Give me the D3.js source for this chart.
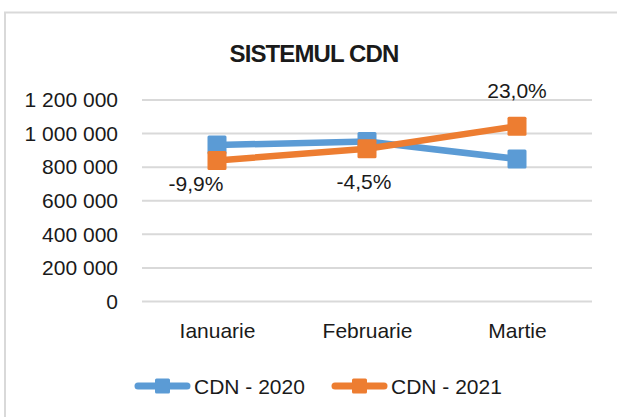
<!DOCTYPE html>
<html>
<head>
<meta charset="utf-8">
<script src="https://cdn.jsdelivr.net/npm/d3@7"></script>
<style>
  body { margin: 0; background: #fff; }
  svg text { font-family: "Liberation Sans", Arial, sans-serif; fill: #1a1a1a; }
</style>
</head>
<body>
<div id="graph"></div>
<script>
const months = ["Ianuarie", "Februarie", "Martie"];
const series = ["CDN - 2020", "CDN - 2021"];
const cdn2020 = [932000, 953000, 849000];
const cdn2021 = [840000, 910000, 1044000];
const changeLabels = ["-9,9%", "-4,5%", "23,0%"];
const yTicks = [0, 200000, 400000, 600000, 800000, 1000000, 1200000];

const w = 617;
const h = 417;
const plot = { left: 142, right: 592, top: 100, bottom: 301.5 };
const colors = ["#5b9bd5", "#ed7d31"];
// label placement relative to the 2021 point (dx, baseline dy)
const labelOffsets = [[-21, 31], [-3, 40], [0, -28]];

const svg = d3.select("#graph").append("svg").attr("width", w).attr("height", h);

// chart frame (only top and left edges show in the crop)
svg.append("path")
  .attr("d", `M5,${h} V12.5 H${w}`)
  .attr("fill", "none")
  .attr("stroke", "#d9d9d9")
  .attr("stroke-width", 2);

svg.append("text")
  .attr("x", 314)
  .attr("y", 62)
  .attr("text-anchor", "middle")
  .attr("font-size", 24)
  .attr("font-weight", "bold")
  .attr("letter-spacing", -0.9)
  .text("SISTEMUL CDN");

const x = d3.scalePoint().domain(months).range([plot.left, plot.right]).padding(0.5);
const y = d3.scaleLinear().domain([0, 1200000]).range([plot.bottom, plot.top]);
const fmt = (d) => d3.format(",")(d).replace(/,/g, " ");

// gridlines
svg.append("g")
  .selectAll("line")
  .data(yTicks)
  .enter()
  .append("line")
  .attr("x1", plot.left)
  .attr("x2", plot.right)
  .attr("y1", (d) => y(d))
  .attr("y2", (d) => y(d))
  .attr("stroke", "#d9d9d9")
  .attr("stroke-width", 2);

// y axis
const yAxis = svg.append("g")
  .attr("transform", `translate(${plot.left},0)`)
  .call(d3.axisLeft(y).tickValues(yTicks).tickFormat(fmt).tickSize(0).tickPadding(24));
yAxis.select(".domain").remove();
yAxis.selectAll("text").attr("font-size", 21).attr("fill", "#1a1a1a");

// x axis
const xAxis = svg.append("g")
  .attr("transform", `translate(0,${plot.bottom})`)
  .call(d3.axisBottom(x).tickSize(0).tickPadding(22));
xAxis.select(".domain").remove();
xAxis.selectAll("text").attr("font-size", 21).attr("fill", "#1a1a1a");

const line = d3.line().x((d, i) => x(months[i])).y((d) => y(d));
const m = 19;

[cdn2020, cdn2021].forEach((vals, s) => {
  const g = svg.append("g");
  g.append("path")
    .datum(vals)
    .attr("d", line)
    .attr("fill", "none")
    .attr("stroke", colors[s])
    .attr("stroke-width", 6.5)
    .attr("stroke-linejoin", "round");
  g.selectAll("rect")
    .data(vals)
    .enter()
    .append("rect")
    .attr("x", (d, i) => x(months[i]) - m / 2)
    .attr("y", (d) => y(d) - m / 2)
    .attr("width", m)
    .attr("height", m)
    .attr("rx", 1.5)
    .attr("fill", colors[s]);
});

// change labels
svg.append("g")
  .selectAll("text")
  .data(changeLabels)
  .enter()
  .append("text")
  .attr("x", (d, i) => x(months[i]) + labelOffsets[i][0])
  .attr("y", (d, i) => y(cdn2021[i]) + labelOffsets[i][1])
  .attr("text-anchor", "middle")
  .attr("font-size", 21)
  .text((d) => d);

// legend
const legend = svg.append("g").attr("transform", "translate(135,386)");
const item = legend.selectAll("g")
  .data(series)
  .enter()
  .append("g")
  .attr("transform", (d, i) => `translate(${i * 197},0)`);
item.append("line")
  .attr("x1", 3).attr("x2", 52)
  .attr("stroke", (d, i) => colors[i])
  .attr("stroke-width", 7)
  .attr("stroke-linecap", "round");
item.append("rect")
  .attr("x", 20).attr("y", -7.5)
  .attr("width", 15).attr("height", 15)
  .attr("rx", 1.5)
  .attr("fill", (d, i) => colors[i]);
item.append("text")
  .attr("x", 59)
  .attr("y", 7.5)
  .attr("font-size", 21)
  .text((d) => d);
</script>
</body>
</html>
